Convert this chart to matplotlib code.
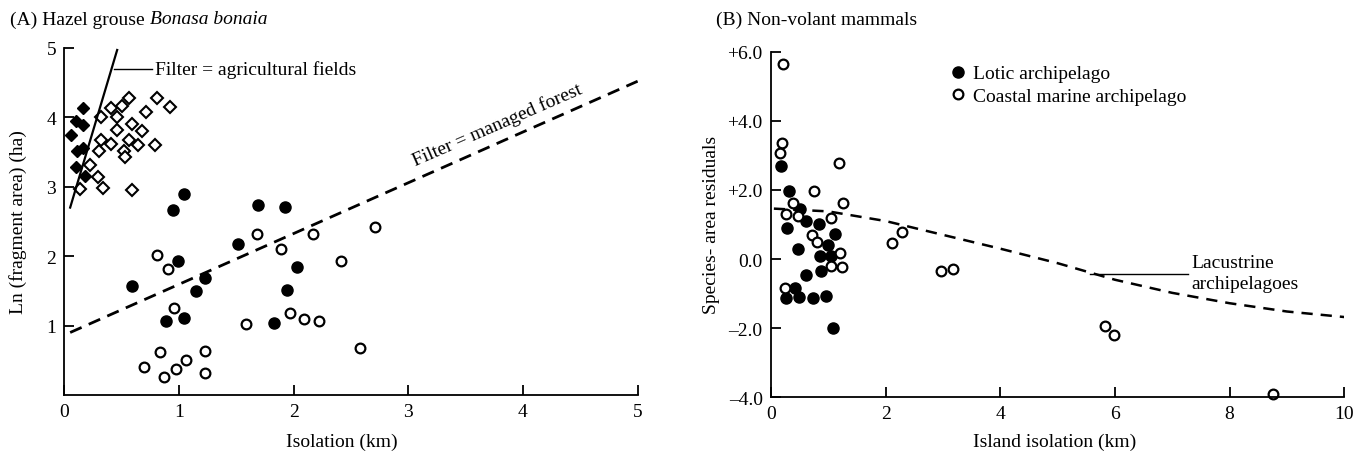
import matplotlib.pyplot as plt

plt.rcParams['font.family'] = ['Liberation Serif', 'DejaVu Serif']
plt.rcParams['font.size'] = 14

# (A) Hazel grouse: isolation (km) vs ln fragment area (ha)
filled_diamond_x = [0.16, 0.10, 0.16, 0.06, 0.11, 0.16, 0.10, 0.18]
filled_diamond_y = [4.13, 3.94, 3.89, 3.75, 3.52, 3.56, 3.28, 3.16]

open_diamond_x = [0.56, 0.41, 0.50, 0.32, 0.46, 0.71, 0.81, 0.92, 0.46, 0.59, 0.68, 0.32,
                  0.41, 0.56, 0.64, 0.79, 0.30, 0.52, 0.53, 0.22, 0.29, 0.14, 0.34, 0.59]
open_diamond_y = [4.28, 4.13, 4.17, 4.00, 4.00, 4.08, 4.28, 4.15, 3.82, 3.90, 3.81, 3.67,
                  3.61, 3.67, 3.60, 3.60, 3.51, 3.51, 3.43, 3.31, 3.14, 2.97, 2.98, 2.96]

filled_circle_x = [1.04, 0.95, 1.69, 1.92, 1.51, 0.99, 2.03, 1.23, 0.59, 1.15, 1.94, 0.89, 1.04, 1.83]
filled_circle_y = [2.90, 2.67, 2.73, 2.71, 2.17, 1.93, 1.85, 1.69, 1.57, 1.50, 1.51, 1.07, 1.11, 1.04]

open_circle_x = [0.81, 0.90, 1.68, 1.89, 2.17, 2.71, 2.41, 0.96, 1.58, 1.97, 2.09, 2.22, 2.58,
                 0.83, 0.69, 0.87, 0.97, 1.06, 1.23, 1.23]
open_circle_y = [2.01, 1.81, 2.32, 2.10, 2.32, 2.42, 1.93, 1.26, 1.02, 1.18, 1.10, 1.06, 0.68,
                 0.62, 0.41, 0.26, 0.38, 0.50, 0.63, 0.31]

agri_line_x = [0.05, 0.46]
agri_line_y = [2.70, 4.97]
forest_line_x = [0.05, 5.0]
forest_line_y = [0.90, 4.52]

# (B) Non-volant mammals: island isolation (km) vs species-area residuals
lotic_x = [0.17, 0.31, 0.51, 0.285, 0.61, 0.84, 0.465, 0.99, 0.855, 1.05, 1.12, 0.88, 0.605,
           0.41, 0.27, 0.49, 0.74, 0.96, 1.09]
lotic_y = [2.70, 1.97, 1.45, 0.91, 1.10, 1.01, 0.28, 0.42, 0.09, 0.10, 0.72, -0.36, -0.45,
           -0.84, -1.12, -1.10, -1.12, -1.06, -2.00]

coastal_x = [0.215, 0.20, 0.157, 1.18, 0.75, 0.38, 0.27, 0.465, 0.71, 0.81, 1.20, 1.04, 1.24,
             0.24, 1.26, 1.04, 2.11, 2.28, 2.97, 3.17, 5.83, 5.99, 8.76]
coastal_y = [5.66, 3.36, 3.07, 2.79, 1.97, 1.61, 1.30, 1.24, 0.71, 0.48, 0.18, -0.20, -0.22,
             -0.84, 1.63, 1.18, 0.45, 0.79, -0.35, -0.30, -1.93, -2.20, -3.90]

lacustrine_x = [0.05, 1.0, 2.0, 3.0, 4.0, 5.0, 6.0, 7.0, 8.0, 9.0, 10.0]
lacustrine_y = [1.46, 1.38, 1.10, 0.70, 0.30, -0.12, -0.60, -0.98, -1.28, -1.52, -1.68]

fig = plt.figure(figsize=(13.68, 4.64), dpi=100)
axA = fig.add_axes([0.0471, 0.1466, 0.419, 0.748])
axB = fig.add_axes([0.5636, 0.142, 0.419, 0.744])

for ax in (axA, axB):
    ax.spines['top'].set_visible(False)
    ax.spines['right'].set_visible(False)
    ax.spines['left'].set_linewidth(1.3)
    ax.spines['bottom'].set_linewidth(1.3)
    ax.tick_params(direction='in', length=7, width=1.3, labelsize=14, pad=6)

# panel A
axA.plot(filled_diamond_x, filled_diamond_y, 'D', ms=6.5, color='black', clip_on=False)
axA.plot(open_diamond_x, open_diamond_y, 'D', ms=6.5, mfc='white', mec='black', mew=1.5)
axA.plot(filled_circle_x, filled_circle_y, 'o', ms=8, color='black')
axA.plot(open_circle_x, open_circle_y, 'o', ms=7, mfc='white', mec='black', mew=1.6)
axA.plot(agri_line_x, agri_line_y, color='black', lw=1.6)
axA.plot(forest_line_x, forest_line_y, color='black', lw=2, dashes=(4.5, 2.8))
axA.plot([0.43, 0.76], [4.70, 4.70], color='black', lw=1)
axA.text(0.79, 4.70, 'Filter = agricultural fields', va='center', ha='left', fontsize=14)
axA.text(3.78, 3.90, 'Filter = managed forest', rotation=23.5, rotation_mode='anchor',
         ha='center', va='center', fontsize=14)
axA.set_xlim(0, 5)
axA.set_ylim(0, 5)
axA.set_xticks([0, 1, 2, 3, 4, 5])
axA.set_yticks([1, 2, 3, 4, 5])

# panel B
axB.plot(lacustrine_x, lacustrine_y, color='black', lw=1.8, dashes=(4.5, 3.2))
axB.plot(lotic_x, lotic_y, 'o', ms=8, color='black', label='Lotic archipelago')
axB.plot(coastal_x, coastal_y, 'o', ms=7, mfc='white', mec='black', mew=1.6,
         label='Coastal marine archipelago', clip_on=False)
axB.plot([5.57, 7.28], [-0.43, -0.43], color='black', lw=1)
axB.text(7.34, -0.40, 'Lacustrine\narchipelagoes', ha='left', va='center',
         linespacing=1.3, fontsize=14)
axB.legend(loc='upper left', bbox_to_anchor=(0.295, 0.985), frameon=False, fontsize=14,
           handletextpad=0.3, handlelength=1.0, labelspacing=0.25, borderaxespad=0)
axB.set_xlim(0, 10)
axB.set_ylim(-4, 6)
axB.set_xticks([0, 2, 4, 6, 8, 10])
axB.set_yticks([-4, -2, 0, 2, 4, 6])
axB.set_yticklabels(['\u20134.0', '\u20132.0', '0.0', '+2.0', '+4.0', '+6.0'])

# titles and axis labels
t = fig.text(10 / 1368, 1 - 20 / 464, '(A) Hazel grouse ', ha='left', va='center', fontsize=14)
fig.canvas.draw()
bb = t.get_window_extent()
fig.text(bb.x1 / 1368, 1 - 20 / 464, 'Bonasa bonaia', style='italic', ha='left', va='center',
         fontsize=14)
fig.text(716 / 1368, 1 - 20 / 464, '(B) Non-volant mammals', ha='left', va='center', fontsize=14)

fig.text(18 / 1368, 1 - 222 / 464, 'Ln (fragment area) (ha)', rotation=90, ha='center',
         va='center', fontsize=14)
fig.text(712 / 1368, 1 - 225 / 464, 'Species- area residuals', rotation=90, ha='center',
         va='center', fontsize=14)
fig.text(342 / 1368, 1 - 442 / 464, 'Isolation (km)', ha='center', va='center', fontsize=14)
fig.text(1055 / 1368, 1 - 442 / 464, 'Island isolation (km)', ha='center', va='center',
         fontsize=14)

fig.savefig('out.png', dpi=100)
